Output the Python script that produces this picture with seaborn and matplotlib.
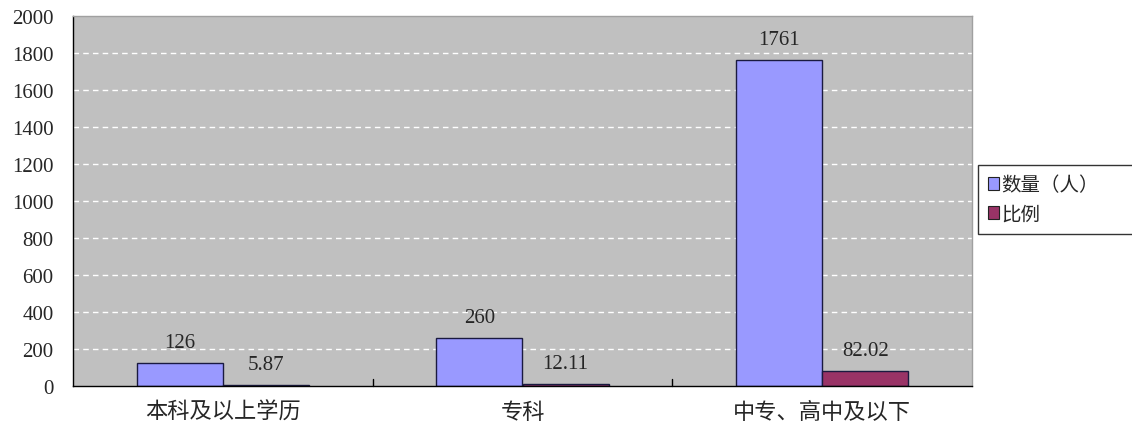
import matplotlib
matplotlib.use("Agg")
import matplotlib.pyplot as plt
import seaborn as sns
import pandas as pd
from matplotlib.patches import Patch

categories = ["本科及以上学历", "专科", "中专、高中及以下"]
series_names = ["数量（人）", "比例"]
counts = [126, 260, 1761]
ratios = [5.87, 12.11, 82.02]
count_labels = ["126", "260", "1761"]
ratio_labels = ["5.87", "12.11", "82.02"]
yticks = [0, 200, 400, 600, 800, 1000, 1200, 1400, 1600, 1800, 2000]

df = pd.DataFrame({
    "cat": categories * 2,
    "series": [series_names[0]] * 3 + [series_names[1]] * 3,
    "value": counts + ratios,
})

sns.set_theme(style="white")
plt.rcParams['font.family'] = ['Liberation Serif', 'Noto Sans CJK SC', 'DejaVu Sans']

colors = ["#9999FF", "#993366"]
fig = plt.figure(figsize=(11.32, 4.27), dpi=100)
ax = fig.add_axes([73/1132, 1 - 387/427, (972-73)/1132, (387-17)/427])
ax.set_facecolor("#C0C0C0")

sns.barplot(data=df, x="cat", y="value", hue="series", palette=colors,
            width=0.574, gap=0, ax=ax, legend=False, saturation=1,
            edgecolor="#1a1a40", linewidth=1)

ax.set_ylim(0, 2000)
ax.set_xlim(-0.5, 2.5)
ax.set_yticks(yticks)
ax.set_yticklabels([str(t) for t in yticks], fontsize=15, family=['Liberation Serif'])
for t in yticks[1:-1]:
    ax.axhline(t, color="white", linestyle=(0, (4, 3)), linewidth=1, zorder=0.5)
ax.set_axisbelow(True)

ax.set_xticks([0, 1, 2])
ax.set_xticklabels(categories, fontsize=16, family=['Noto Sans CJK SC'])
ax.tick_params(axis="x", length=0, pad=10)
ax.tick_params(axis="y", length=4, width=1, color="black", direction="out", pad=10)
for b in [0.5, 1.5]:
    ax.plot([b, b], [0, 0.02], transform=ax.get_xaxis_transform(), color="black",
            linewidth=1, clip_on=False, zorder=5)

ax.set_xlabel("")
ax.set_ylabel("")
for s in ["left", "bottom"]:
    ax.spines[s].set_color("black")
    ax.spines[s].set_linewidth(1)
for s in ["top", "right"]:
    ax.spines[s].set_color("#A0A0A0")
    ax.spines[s].set_linewidth(1)

containers = ax.containers
for cont, labs in zip(containers, [count_labels, ratio_labels]):
    ax.bar_label(cont, labels=labs, padding=8, fontsize=15, family=['Liberation Serif'])

handles = [Patch(facecolor=c, edgecolor="#222222", linewidth=0.8) for c in colors]
leg = fig.legend(handles, series_names, loc="upper left",
                 bbox_to_anchor=(978/1132, 1 - 170/427, 160/1132, 0.01),
                 mode="expand", frameon=True, fancybox=False,
                 prop={'family': ['Noto Sans CJK SC'], 'size': 14},
                 handlelength=0.6, handleheight=0.6, handletextpad=0.1,
                 borderpad=0.5, labelspacing=0.4, borderaxespad=0)
leg.get_frame().set_edgecolor("black")
leg.get_frame().set_linewidth(1)
leg.get_frame().set_facecolor("white")

fig.savefig("out.png", dpi=100)
